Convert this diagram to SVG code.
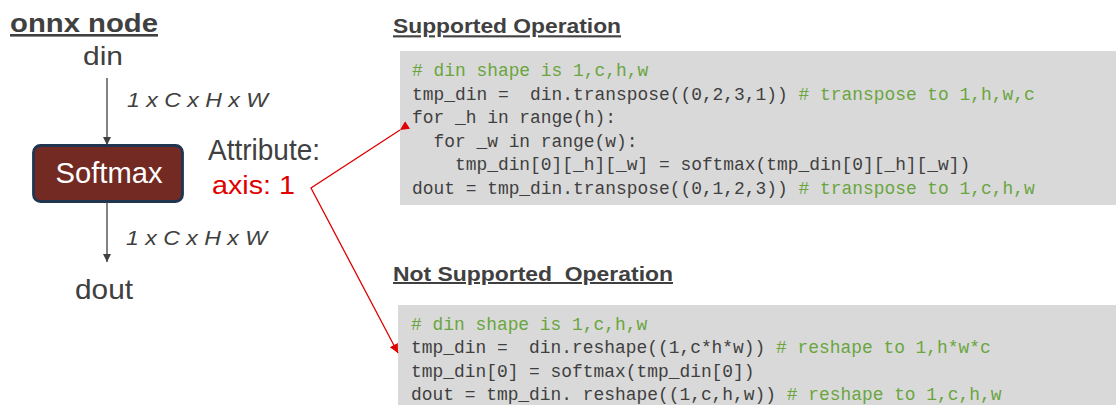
<svg xmlns="http://www.w3.org/2000/svg" width="1116" height="405" viewBox="0 0 1116 405">
<style>
.s{font-family:"Liberation Sans",Arial,sans-serif;fill:#404040}
.b{font-weight:bold;text-decoration:underline;white-space:pre}
.i{font-style:italic;font-size:20px}
.code{font-family:"Liberation Mono","DejaVu Sans Mono",monospace;font-size:17.9px;fill:#3f3f3f;white-space:pre}
.cm{fill:#6aa540}
.box{fill:#d9d9d9}
.gl{stroke:#404040;stroke-width:1.3;fill:none}
.rl{stroke:#e00000;stroke-width:1.3;fill:none}
</style>
<defs>
<marker id="ag" viewBox="0 0 10 10" refX="10" refY="5" markerWidth="9" markerHeight="8" markerUnits="userSpaceOnUse" orient="auto"><path d="M0,0L10,5L0,10z" fill="#404040"/></marker>
<marker id="ar" viewBox="0 0 10 10" refX="10" refY="5" markerWidth="11" markerHeight="9" markerUnits="userSpaceOnUse" orient="auto"><path d="M0,0L10,5L0,10z" fill="#e00000"/></marker>
</defs>
<g id="title"><text class="s b" x="10" y="32" font-size="26" textLength="148" lengthAdjust="spacingAndGlyphs">onnx node</text></g>
<g id="din"><text class="s" x="83" y="65" font-size="25" textLength="40" lengthAdjust="spacingAndGlyphs">din</text></g>
<g id="softmax">
<rect x="33.5" y="145.5" width="149" height="56" rx="7" fill="#722a22" stroke="#1f3550" stroke-width="2.8"/>
<text x="55.5" y="182.7" font-family="Liberation Sans,Arial,sans-serif" font-size="29" fill="#ffffff" textLength="107" lengthAdjust="spacingAndGlyphs">Softmax</text>
</g>
<g id="dout"><text class="s" x="75" y="298.5" font-size="28" textLength="58" lengthAdjust="spacingAndGlyphs">dout</text></g>
<g id="attribute">
<text class="s" x="208" y="160" font-size="29" textLength="112" lengthAdjust="spacingAndGlyphs">Attribute:</text>
<text x="212" y="194.3" font-family="Liberation Sans,Arial,sans-serif" font-size="26" fill="#e00000" textLength="83" lengthAdjust="spacingAndGlyphs">axis: 1</text>
</g>
<g id="supported">
<text class="s b" x="393" y="33.3" font-size="21" textLength="228" lengthAdjust="spacingAndGlyphs">Supported Operation</text>
<rect class="box" x="400" y="51" width="716" height="154"/>
<text class="code" x="412" y="76"><tspan class="cm"># din shape is 1,c,h,w</tspan></text>
<text class="code" x="412" y="99.5">tmp_din =  din.transpose((0,2,3,1)) <tspan class="cm"># transpose to 1,h,w,c</tspan></text>
<text class="code" x="412" y="123">for _h in range(h):</text>
<text class="code" x="412" y="146.5">  for _w in range(w):</text>
<text class="code" x="412" y="170">    tmp_din[0][_h][_w] = softmax(tmp_din[0][_h][_w])</text>
<text class="code" x="412" y="193.5">dout = tmp_din.transpose((0,1,2,3)) <tspan class="cm"># transpose to 1,c,h,w</tspan></text>
</g>
<g id="notsupported">
<text class="s b" x="393" y="281" font-size="20" textLength="280" lengthAdjust="spacingAndGlyphs">Not Supported  Operation</text>
<rect class="box" x="398" y="305" width="718" height="100"/>
<text class="code" x="411" y="329.5"><tspan class="cm"># din shape is 1,c,h,w</tspan></text>
<text class="code" x="411" y="353">tmp_din =  din.reshape((1,c*h*w)) <tspan class="cm"># reshape to 1,h*w*c</tspan></text>
<text class="code" x="411" y="376.5">tmp_din[0] = softmax(tmp_din[0])</text>
<text class="code" x="411" y="400">dout = tmp_din. reshape((1,c,h,w)) <tspan class="cm"># reshape to 1,c,h,w</tspan></text>
</g>
<g id="connectors">
<line class="gl" x1="107" y1="78" x2="107" y2="145" marker-end="url(#ag)"/>
<line class="gl" x1="107" y1="202" x2="107" y2="262" marker-end="url(#ag)"/>
<text class="s i" x="127" y="107.3" textLength="141" lengthAdjust="spacingAndGlyphs">1 x C x H x W</text>
<text class="s i" x="126" y="245" textLength="141" lengthAdjust="spacingAndGlyphs">1 x C x H x W</text>
<polyline class="rl" points="400,130 311,188 398,353" marker-start="url(#ar)" marker-end="url(#ar)"/>
</g>
</svg>
